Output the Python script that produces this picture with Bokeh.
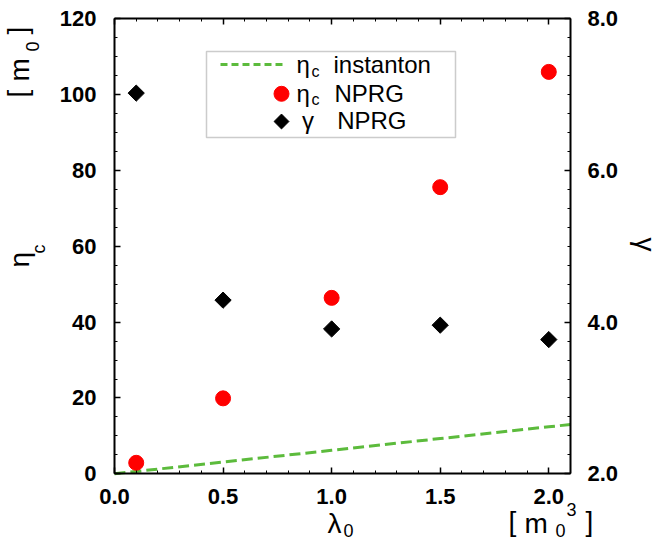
import math
from bokeh.plotting import figure
from bokeh.models import (Range1d, LinearAxis, SingleIntervalTicker, Label,
                          BoxAnnotation, PrintfTickFormatter,
                          CustomJSTickFormatter)
from bokeh.embed import file_html
from bokeh.resources import INLINE

# ---- data ----
lam_nprg = [0.1, 0.5, 1.0, 1.5, 2.0]
eta_nprg = [2.9, 19.9, 46.4, 75.6, 106.0]
gamma_nprg = [7.02, 4.29, 3.91, 3.96, 3.77]

lam_inst = [0.0, 0.5, 1.0, 1.5, 2.0, 2.1]
eta_inst = [0.0, 3.1, 6.2, 9.3, 12.4, 13.0]

x_ticks = [0.0, 0.5, 1.0, 1.5, 2.0]
eta_ticks = [0, 20, 40, 60, 80, 100, 120]
gamma_ticks = [2.0, 4.0, 6.0, 8.0]

LAM_MIN, LAM_MAX = 0.0, 2.1
ETA_MIN, ETA_MAX = 0.0, 120.0
GAM_MIN, GAM_MAX = 2.0, 8.0

GREEN = "#5cbb3c"
FONT = "Liberation Sans"

# The plotting frame covers the whole canvas; the axes are pinned at the
# edges of the data box so that the axis titles (with sub/superscripts)
# can be drawn as Labels without being clipped.
W, H = 660, 542
BOX_L, BOX_R, BOX_T, BOX_B = 114, 570, 18.3, 473.3
sx = (BOX_R - BOX_L) / (LAM_MAX - LAM_MIN)
sy = (BOX_B - BOX_T) / (ETA_MAX - ETA_MIN)
sg = (BOX_B - BOX_T) / (GAM_MAX - GAM_MIN)
x_rng = Range1d(LAM_MIN - BOX_L / sx, LAM_MAX + (W - BOX_R) / sx)
y_rng = Range1d(ETA_MIN - (H - BOX_B) / sy, ETA_MAX + BOX_T / sy)
g_rng = Range1d(GAM_MIN - (H - BOX_B) / sg, GAM_MAX + BOX_T / sg)


def dx(px):
    return LAM_MIN + (px - BOX_L) / sx


def dy(py):
    return ETA_MIN + (BOX_B - py) / sy


p = figure(width=W, height=H, output_backend="svg", toolbar_location=None,
           x_range=x_rng, y_range=y_rng,
           min_border_left=0, min_border_right=0,
           min_border_top=0, min_border_bottom=0)
p.grid.visible = False
p.outline_line_color = None
p.background_fill_color = "white"
p.border_fill_color = "white"

p.extra_y_ranges = {"g": g_rng}
ax_b = p.below[0]
ax_l = p.left[0]
ax_r = LinearAxis(y_range_name="g")
p.add_layout(ax_r, "right")
ax_t = LinearAxis()
p.add_layout(ax_t, "above")


def style(ax, ticker, standoff, loc, bounds):
    ax.ticker = ticker
    ax.fixed_location = loc
    ax.bounds = bounds
    ax.major_tick_in = 6
    ax.major_tick_out = 0
    ax.minor_tick_in = 3
    ax.minor_tick_out = 0
    ax.axis_line_width = 2
    ax.major_tick_line_width = 1.5
    ax.minor_tick_line_width = 1
    ax.major_label_text_font = FONT
    ax.major_label_text_font_style = "bold"
    ax.major_label_text_font_size = "22px"
    ax.major_label_text_color = "black"
    ax.major_label_standoff = standoff


style(ax_b, SingleIntervalTicker(interval=0.5, num_minor_ticks=5), 15,
      ETA_MIN, (LAM_MIN, LAM_MAX))
ax_b.formatter = PrintfTickFormatter(format="%.1f")
style(ax_t, SingleIntervalTicker(interval=0.5, num_minor_ticks=5), 0,
      ETA_MAX, (LAM_MIN, LAM_MAX))
ax_t.formatter = CustomJSTickFormatter(code="return ''")
style(ax_l, SingleIntervalTicker(interval=20, num_minor_ticks=4), 18,
      LAM_MIN, (ETA_MIN, ETA_MAX))
style(ax_r, SingleIntervalTicker(interval=2, num_minor_ticks=8), 17,
      LAM_MAX, (GAM_MIN, GAM_MAX))
ax_r.formatter = PrintfTickFormatter(format="%.1f")

# ---- data glyphs ----
p.line(lam_inst, eta_inst, line_color=GREEN, line_width=3, line_dash="11 5")
p.scatter(lam_nprg, eta_nprg, marker="circle", size=15, color="red")
p.scatter(lam_nprg, gamma_nprg, y_range_name="g", marker="square",
          angle=math.pi / 4, size=11.5, color="black")

# ---- legend (drawn by hand to allow subscripts) ----
box = BoxAnnotation(left=dx(206), right=dx(455), top=dy(51), bottom=dy(137),
                    fill_color="white", fill_alpha=1.0, line_color="#555555",
                    line_width=1.5, level="underlay")
p.add_layout(box)
p.line([dx(220), dx(282)], [dy(64), dy(64)], line_color=GREEN, line_width=3,
       line_dash="7 4")
p.scatter([dx(281)], [dy(93.3)], marker="circle", size=15, color="red")
p.scatter([dx(281)], [dy(121)], marker="square", angle=math.pi / 4,
          size=10.5, color="black")

UP, CW = "up", "cw"


def txt(px, py, s, fs, rot=None):
    """px, py: start of the text and its baseline, in picture pixels."""
    d = 0.34 * fs  # compensate bokeh's alphabetic-baseline offset
    angle = 0.0
    if rot is None:
        py -= d
    elif rot == UP:
        px -= d
        angle = math.pi / 2
    else:
        px += d
        angle = -math.pi / 2
    p.add_layout(Label(x=dx(px), y=dy(py), text=s, angle=angle,
                       text_font=FONT, text_font_size=f"{fs}px",
                       text_color="black", text_align="left",
                       text_baseline="alphabetic"))


txt(296, 72.3, "η", 24)
txt(311, 76.3, "c", 16)
txt(333, 72.3, "instanton", 24)
txt(296, 100.7, "η", 24)
txt(311, 104.7, "c", 16)
txt(334, 100.7, "NPRG", 24)
txt(301.5, 128.3, "γ", 24)
txt(336.7, 128.3, "NPRG", 24)

# ---- axis titles ----
# bottom
txt(327, 533, "λ", 28)
txt(343, 536, "0", 18)
txt(508, 531, "[", 28)
txt(524, 533, "m", 28)
txt(555, 536, "0", 18)
txt(566, 515, "3", 18)
txt(585, 531, "]", 28)
# left (rotated, reading upwards)
txt(29, 267, "η", 28, UP)
txt(45, 253, "c", 18, UP)
txt(27, 97, "[", 28, UP)
txt(29, 81, "m", 28, UP)
txt(38, 51, "0", 18, UP)
txt(27, 34, "]", 28, UP)
# right (rotated, reading downwards)
txt(635, 237, "γ", 28, CW)

open("out.html", "w").write(file_html(p, INLINE))
